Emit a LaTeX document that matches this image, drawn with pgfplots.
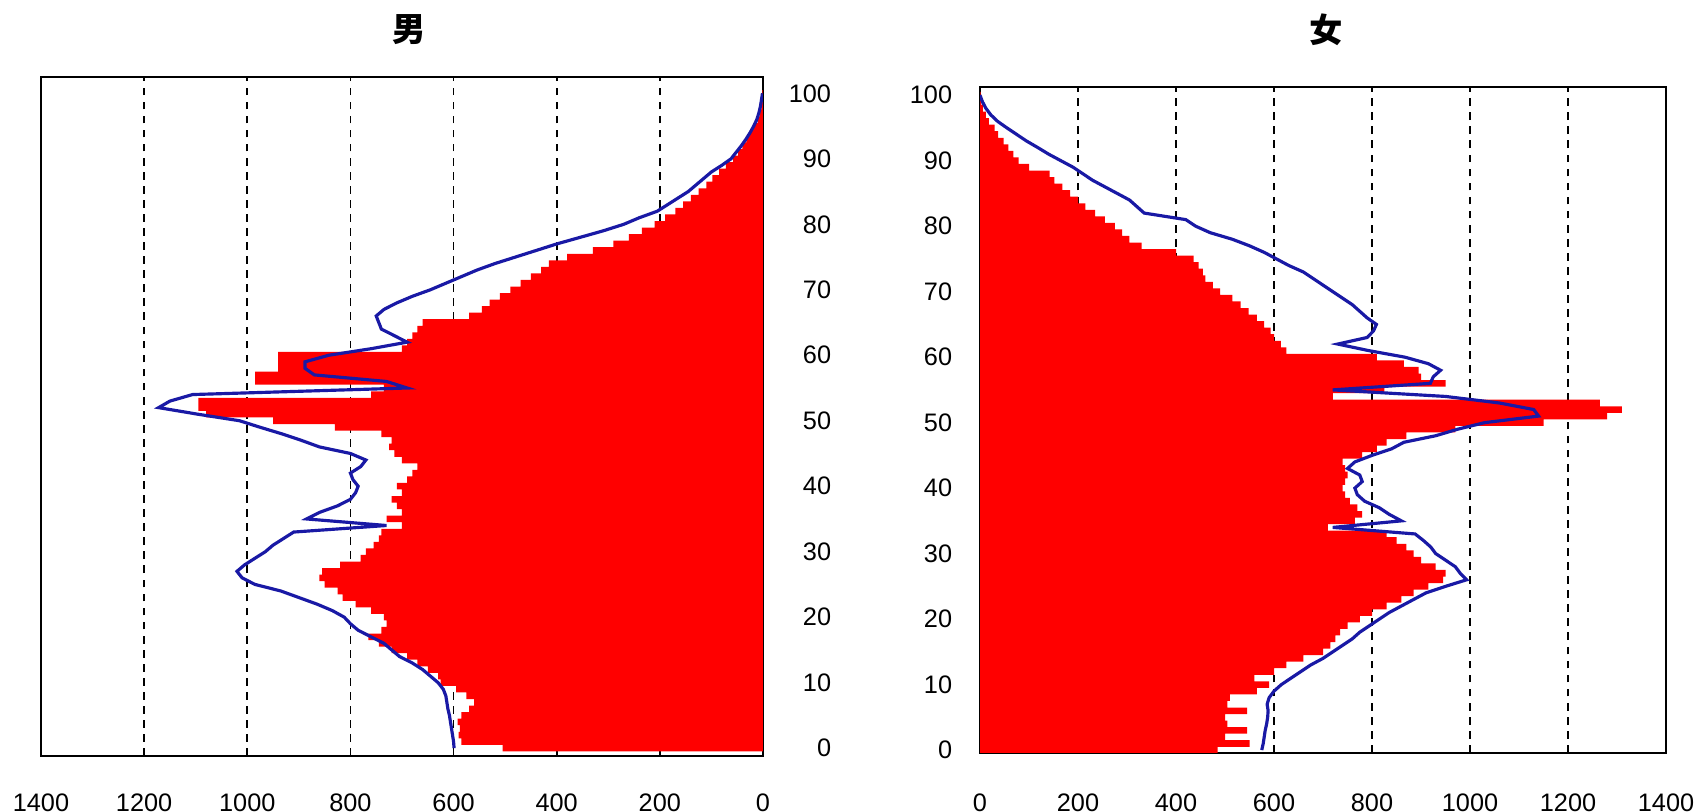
\documentclass[border=0pt]{standalone}
\usepackage{fontspec}
\setmainfont{Liberation Sans}
\newfontfamily\cjk{Noto Sans CJK SC}
\usepackage{pgfplots}
\usepackage{pgfplotstable}
\pgfplotsset{compat=1.18}

\definecolor{barred}{RGB}{255,0,0}
\definecolor{lineblue}{RGB}{25,25,165}

% age, red bars, blue line (male)
\pgfplotstableread{
age red blue
0 505 599
1 585 600
2 590 602
3 588 604
4 592 606
5 585 608
6 570 611
7 560 613
8 575 615
9 595 620
10 625 630
11 630 645
12 650 660
13 670 680
14 690 705
15 720 720
16 745 735
17 765 760
18 740 785
19 730 800
20 735 812
21 760 835
22 790 865
23 815 900
24 825 935
25 850 985
26 860 1010
27 855 1020
28 820 1005
29 780 985
30 770 965
31 755 950
32 745 930
33 740 910
34 700 730
35 730 885
36 700 860
37 710 825
38 720 800
39 700 790
40 710 785
41 690 795
42 680 800
43 670 780
44 700 770
45 715 800
46 725 860
47 720 895
48 740 933
49 830 975
50 950 1015
51 1080 1096
52 1095 1172
53 1095 1150
54 760 1106
55 735 690
56 985 730
57 985 870
58 940 888
59 940 888
60 940 842
61 700 760
62 690 690
63 680 715
64 670 740
65 660 745
66 570 750
67 545 735
68 530 710
69 510 680
70 490 645
71 470 615
72 450 585
73 430 555
74 415 520
75 380 480
76 330 440
77 290 400
78 260 355
79 235 310
80 210 270
81 190 240
82 170 205
83 155 185
84 140 165
85 125 145
86 110 130
87 98 115
88 85 100
89 72 80
90 58 62
91 48 52
92 40 42
93 32 33
94 25 25
95 18 18
96 10 12
97 6 8
98 3 5
99 2 3
100 1 1
}\male

% age, red bars, blue line (female)
\pgfplotstableread{
age red blue
0 485 575
1 550 578
2 500 580
3 545 582
4 505 585
5 500 587
6 545 588
7 505 586
8 510 590
9 565 600
10 590 615
11 560 635
12 600 655
13 625 675
14 660 700
15 700 720
16 715 740
17 725 760
18 735 775
19 750 795
20 775 815
21 800 835
22 830 860
23 860 885
24 885 910
25 915 950
26 945 993
27 950 980
28 930 970
29 900 950
30 885 930
31 870 920
32 850 905
33 830 888
34 710 720
35 765 860
36 780 835
37 770 815
38 755 785
39 745 770
40 740 765
41 745 780
42 750 775
43 745 750
44 740 765
45 780 800
46 810 840
47 830 865
48 870 930
49 970 975
50 1150 1030
51 1280 1140
52 1310 1130
53 1265 1060
54 720 950
55 825 720
56 950 919
57 900 925
58 895 940
59 865 915
60 810 867
61 625 793
62 614 730
63 600 790
64 593 803
65 580 809
66 565 790
67 548 775
68 532 760
69 515 740
70 490 720
71 475 700
72 460 680
73 455 660
74 446 630
75 436 605
76 400 580
77 330 550
78 305 515
79 290 470
80 275 440
81 255 420
82 235 335
83 215 320
84 200 305
85 184 280
86 168 255
87 152 230
88 142 210
89 100 190
90 79 165
91 68 140
92 58 118
93 48 95
94 37 75
95 30 55
96 18 36
97 12 22
98 6 12
99 3 5
100 1 0
}\female

\pgfplotsset{pyr/.style={
  scale only axis,
  xmin=0, xmax=1400, xtick={0,200,...,1400},
  ytick={0,10,...,100},
  xmajorgrids,
  grid style={black, line width=0.45pt, dash pattern=on 2.2pt off 1.8pt},
  major tick length=0pt,
  tick label style={font=\fontsize{7.2}{8}\selectfont},
  /pgf/number format/1000 sep={},
  /pgf/number format/assume math mode=true,
  scaled ticks=false,
  axis line style={black, line width=0.5pt},
}}

\begin{document}
\begin{tikzpicture}
\path[use as bounding box] (0,0) rectangle (16.97,8.12);

\begin{axis}[pyr,
    at={(0.41cm,0.56cm)}, anchor=south west,
    width=7.22cm, height=6.79cm,
    x dir=reverse, ymin=-1.2, ymax=102.5,
    yticklabel pos=right,
    yticklabel style={anchor=east, xshift=8.05mm},
    xticklabel style={yshift=-2.55mm},
  ]
  \addplot[xbar, bar width=1, bar shift=0pt, fill=barred, draw=none] table[x=red, y=age] {\male};
  \addplot[lineblue, line width=0.9pt, no marks] table[x=blue, y=age] {\male};
\end{axis}

\begin{axis}[pyr,
    at={(9.80cm,0.593cm)}, anchor=south west,
    width=6.86cm, height=6.66cm,
    ymin=-0.4, ymax=101.3,
    yticklabel style={xshift=-1.55mm},
    xticklabel style={yshift=-2.9mm},
  ]
  \addplot[xbar, bar width=1, bar shift=0pt, fill=barred, draw=none] table[x=red, y=age] {\female};
  \addplot[lineblue, line width=0.9pt, no marks] table[x=blue, y=age] {\female};
\end{axis}

% panel titles
\node[font=\cjk\bfseries\fontsize{9.5}{11}\selectfont, anchor=center] at (4.09,7.82) {男};
\node[font=\cjk\bfseries\fontsize{9.5}{11}\selectfont, anchor=center] at (13.26,7.82) {女};
\end{tikzpicture}
\end{document}
